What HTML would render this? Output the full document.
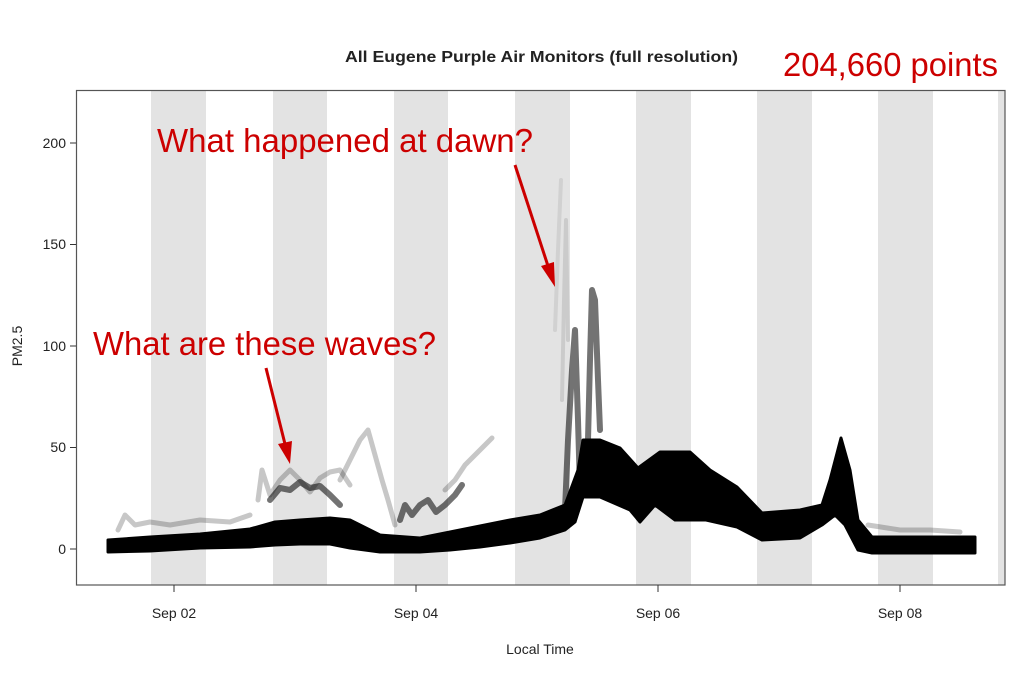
<!DOCTYPE html><html><head><style>body{margin:0;background:#fff}svg{display:block}</style></head><body>
<svg width="1024" height="683" xmlns="http://www.w3.org/2000/svg" font-family="Liberation Sans, sans-serif">
<g fill="#e3e3e3">
<rect x="151" y="90" width="55" height="495"/><rect x="273" y="90" width="54" height="495"/><rect x="394" y="90" width="54" height="495"/><rect x="515" y="90" width="55" height="495"/><rect x="636" y="90" width="55" height="495"/><rect x="757" y="90" width="55" height="495"/><rect x="878" y="90" width="55" height="495"/><rect x="998" y="90" width="7" height="495"/>
</g>
<g fill="none" stroke="#000" stroke-linejoin="round" stroke-linecap="round">
<g stroke-opacity="0.22" stroke-width="5">
<polyline points="258,500 262,470 270,495 280,480 290,470 300,480 310,492 320,478 330,472 340,470 350,485"/>
<polyline points="340,480 350,460 360,440 368,430 375,455 382,480 388,500 395,525"/>
<polyline points="445,490 455,480 465,465 475,455 485,445 492,438"/>
<polyline points="118,530 125,515 135,525 150,522 170,525 200,520 230,522 250,515"/>
<polyline points="868,525 900,530 930,530 960,532"/>
</g>
<g stroke-opacity="0.55" stroke-width="6">
<polyline points="270,500 280,488 290,490 300,482 310,488 320,486 330,495 340,505"/>
<polyline points="400,520 405,505 412,515 420,505 428,500 436,512 445,505 455,495 462,485"/>
<polyline points="565,510 568,440 572,370 575,330 578,420 580,490"/>
<polyline points="588,440 590,360 592,290 595,300 598,380 600,430"/>
</g>
<polyline points="562,400 564,300 566,220 568,340" stroke-opacity="0.1" stroke-width="4"/>
<polyline points="555,330 558,250 561,180" stroke-opacity="0.08" stroke-width="4"/>
</g>
<polygon fill="#000" stroke="#000" stroke-width="3" stroke-linejoin="round" points="108,540 150,537 200,534 250,529 275,522 300,520 330,518 350,520 380,535 420,538 450,532 480,526 510,520 540,515 565,505 578,470 583,440 600,440 620,448 638,468 660,452 690,452 710,470 737,487 762,513 800,510 822,505 830,480 841,438 850,470 858,520 872,537 975,537 975,553 872,553 858,550 845,525 835,515 822,525 800,538 762,540 737,527 706,520 675,520 655,505 640,522 630,510 600,497 583,497 575,522 565,530 540,538 510,543 480,547 450,550 420,552 380,552 350,548 330,544 300,544 275,545 250,547 200,548 150,551 108,552"/>
<rect x="76.5" y="90.5" width="928.5" height="494.5" fill="none" stroke="#555" stroke-width="1.2"/>
<g stroke="#333" stroke-width="1">
<line x1="70" y1="549" x2="76" y2="549"/><line x1="70" y1="447.5" x2="76" y2="447.5"/><line x1="70" y1="346" x2="76" y2="346"/><line x1="70" y1="244.5" x2="76" y2="244.5"/><line x1="70" y1="143" x2="76" y2="143"/>
<line x1="174" y1="585" x2="174" y2="592"/><line x1="416" y1="585" x2="416" y2="592"/><line x1="658" y1="585" x2="658" y2="592"/><line x1="900" y1="585" x2="900" y2="592"/>
</g>
<g font-size="14" fill="#222" text-anchor="end">
<text x="66" y="554">0</text><text x="66" y="452">50</text><text x="66" y="351">100</text><text x="66" y="249">150</text><text x="66" y="148">200</text>
</g>
<g font-size="14" fill="#222" text-anchor="middle">
<text x="174" y="618">Sep 02</text><text x="416" y="618">Sep 04</text><text x="658" y="618">Sep 06</text><text x="900" y="618">Sep 08</text>
<text x="540" y="654">Local Time</text>
<text x="345" y="62" text-anchor="start" font-weight="bold" font-size="16" textLength="393" lengthAdjust="spacingAndGlyphs">All Eugene Purple Air Monitors (full resolution)</text>
<text transform="translate(22,346) rotate(-90)">PM2.5</text>
</g>
<g fill="#cc0000" font-size="33">
<text x="157" y="152" textLength="376" lengthAdjust="spacingAndGlyphs">What happened at dawn?</text>
<text x="93" y="355" textLength="343" lengthAdjust="spacingAndGlyphs">What are these waves?</text>
<text x="783" y="76" textLength="215" lengthAdjust="spacingAndGlyphs">204,660 points</text>
</g>
<g stroke="#cc0000" stroke-width="3" fill="#cc0000">
<line x1="515" y1="165" x2="548" y2="266"/><polygon points="555,287 541,266 554,262" stroke="none"/>
<line x1="266" y1="368" x2="285" y2="444"/><polygon points="290,464 278,444 292,441" stroke="none"/>
</g>
</svg></body></html>
